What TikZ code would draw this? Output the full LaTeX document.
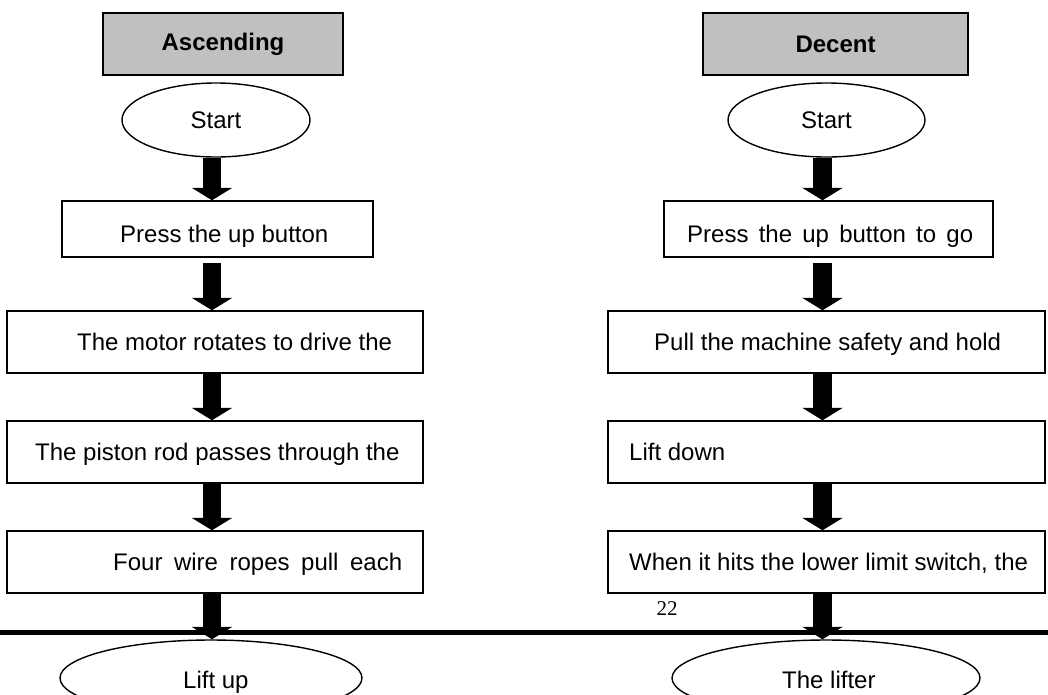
\documentclass[tikz,border=0pt]{standalone}
\usepackage{fontspec}
\setmainfont{Liberation Sans}
\newfontfamily\pagefont{Liberation Serif}
\usetikzlibrary{arrows.meta,shapes.geometric}
\definecolor{hdrgray}{RGB}{192,192,192}
\begin{document}
\begin{tikzpicture}[x=1pt,y=-1pt,
  every node/.style={font=\fontsize{24}{28}\selectfont},
  hdr/.style={draw, line width=1.5pt, fill=hdrgray, inner sep=0pt, minimum height=62pt, font=\fontsize{24}{28}\selectfont\bfseries},
  stepbox/.style={draw, line width=1.4pt, inner sep=0pt},
  oval/.style={draw, ellipse, line width=1.4pt, inner sep=0pt, minimum height=74pt},
  txt/.style={anchor=base west, inner sep=0pt},
  bigarrow/.style={line width=18.5pt, -{Triangle[width=40pt,length=12.5pt]}}
]
\useasboundingbox (0,0) rectangle (1048,694);
\clip (0,0) rectangle (1048,694);

% ---------- left column: Ascending ----------
\node[hdr, minimum width=240pt] (h1) at (223,44) {Ascending};
\node[oval, minimum width=188pt] (s1) at (216,120) {Start};
\node[stepbox, minimum width=311pt, minimum height=56pt] (a1) at (217.5,229) {};
\node[txt] (ta1) at (120,242) {Press the up button};
\node[stepbox, minimum width=416pt, minimum height=62pt] (a2) at (215,342) {};
\node[txt] (ta2) at (77,350) {The motor rotates to drive the};
\node[stepbox, minimum width=416pt, minimum height=62pt] (a3) at (215,452) {};
\node[txt] (ta3) at (35,460) {The piston rod passes through the};
\node[stepbox, minimum width=416pt, minimum height=62pt] (a4) at (215,562) {};
\node[txt] (ta4) at (113,570) {\makebox[289pt][s]{Four wire ropes pull each}};
\node[oval, minimum width=302pt, minimum height=76pt] (e1) at (211,678) {};
\node[txt] (te1) at (183,688) {Lift up};

% ---------- right column: Decent ----------
\node[hdr, minimum width=265pt] (h2) at (835.5,44) {Decent};
\node[oval, minimum width=197pt] (s2) at (826.5,120) {Start};
\node[stepbox, minimum width=329pt, minimum height=56pt] (b1) at (828.5,229) {};
\node[txt] (tb1) at (687,242) {\makebox[286pt][s]{Press the up button to go}};
\node[stepbox, minimum width=437pt, minimum height=62pt] (b2) at (826.5,342) {};
\node[txt] (tb2) at (654,350) {Pull the machine safety and hold};
\node[stepbox, minimum width=437pt, minimum height=62pt] (b3) at (826.5,452) {};
\node[txt] (tb3) at (629,460) {Lift down};
\node[stepbox, minimum width=437pt, minimum height=62pt] (b4) at (826.5,562) {};
\node[txt] (tb4) at (629,570) {When it hits the lower limit switch, the};
\node[oval, minimum width=308pt, minimum height=76pt] (e2) at (826,678) {};
\node[txt] (te2) at (782,688) {The lifter};

% page number and rule
\node[font=\pagefont\fontsize{21}{24}\selectfont, inner sep=0pt] (pg) at (667,609) {22};
\coordinate (ruleL) at (0,632);
\coordinate (ruleR) at (1048,632);
\draw[line width=5pt] (ruleL) -- (ruleR);

% ---------- arrows ----------
\coordinate (axL) at (212,0);
\coordinate (axR) at (822.5,0);
\draw[bigarrow] (s1.south -| axL) -- (a1.north -| axL);
\draw[bigarrow, shorten <=5pt] (a1.south -| axL) -- (a2.north -| axL);
\draw[bigarrow] (a2.south -| axL) -- (a3.north -| axL);
\draw[bigarrow] (a3.south -| axL) -- (a4.north -| axL);
\draw[bigarrow] (a4.south -| axL) -- (e1.north -| axL);

\draw[bigarrow] (s2.south -| axR) -- (b1.north -| axR);
\draw[bigarrow, shorten <=5pt] (b1.south -| axR) -- (b2.north -| axR);
\draw[bigarrow] (b2.south -| axR) -- (b3.north -| axR);
\draw[bigarrow] (b3.south -| axR) -- (b4.north -| axR);
\draw[bigarrow] (b4.south -| axR) -- (e2.north -| axR);
\end{tikzpicture}
\end{document}
